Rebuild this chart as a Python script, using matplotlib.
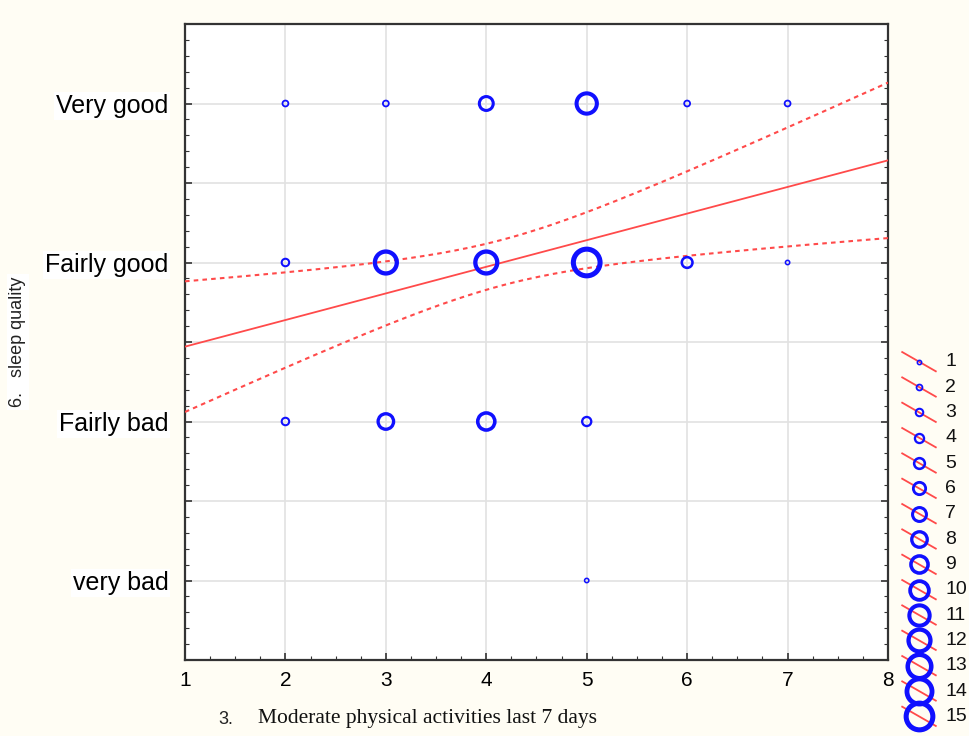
import numpy as np
import matplotlib
matplotlib.use("Agg")
import matplotlib.pyplot as plt
from matplotlib.ticker import MultipleLocator

# ---- data ----
y_categories = ["very bad", "Fairly bad", "Fairly good", "Very good"]
x_ticks = [1, 2, 3, 4, 5, 6, 7, 8]

# observations: activity days (x), sleep-quality level (y, 1..4), count of cases
obs_x = [2, 3, 4, 5, 6, 7,
         2, 3, 4, 5, 6, 7,
         2, 3, 4, 5,
         5]
obs_y = [4, 4, 4, 4, 4, 4,
         3, 3, 3, 3, 3, 3,
         2, 2, 2, 2,
         1]
obs_n = [2, 2, 7, 11, 2, 2,
         3, 12, 12, 15, 5, 1,
         3, 8, 9, 4,
         1]
legend_sizes = list(range(1, 16))

# ---- style ----
DPI = 100
FIG_BG = "#fffdf4"
BLUE = "#1010ff"
RED = "#ff4a4a"


def mew_px(n):
    return 1.3 + 0.25 * n


def ms_px(n):
    return 1.85 * n + 4.0 - mew_px(n)


px2pt = 72.0 / DPI

fig = plt.figure(figsize=(9.69, 7.36), dpi=DPI, facecolor=FIG_BG)
ax = fig.add_axes([185 / 969, 1 - 660 / 736, (888 - 185) / 969, (660 - 24) / 736])
ax.set_facecolor("white")

ox = np.array(obs_x, float)
oy = np.array(obs_y, float)
on = np.array(obs_n, float)

# ---- regression with 95% confidence band (weighted by counts) ----
N = on.sum()
mx = (on * ox).sum() / N
my = (on * oy).sum() / N
sxx = (on * (ox - mx) ** 2).sum()
sxy = (on * (ox - mx) * (oy - my)).sum()
b = sxy / sxx
a = my - b * mx
resid = oy - (a + b * ox)
s = np.sqrt((on * resid ** 2).sum() / (N - 2))
tcrit = 1.985
xx = np.linspace(1, 8, 200)
yy = a + b * xx
se = s * np.sqrt(1 / N + (xx - mx) ** 2 / sxx)
ax.plot(xx, yy, color=RED, lw=1.3, zorder=3)
ax.plot(xx, yy + tcrit * se, color=RED, lw=1.5, ls=(0, (2.2, 2.0)), zorder=3)
ax.plot(xx, yy - tcrit * se, color=RED, lw=1.5, ls=(0, (2.2, 2.0)), zorder=3)

# ---- bubbles ----
sizes_pt = np.array([ms_px(n) * px2pt for n in obs_n])
lws_pt = np.array([mew_px(n) * px2pt for n in obs_n])
ax.scatter(ox, oy, s=sizes_pt ** 2, facecolors="none", edgecolors=BLUE,
           linewidths=lws_pt, zorder=4, clip_on=False)

# ---- axes styling ----
ax.set_xlim(1, 8)
ax.set_ylim(0.5, 4.5)
ax.set_xticks(x_ticks)
ax.set_xticklabels([str(t) for t in x_ticks], fontsize=15, family="Liberation Sans")
ax.xaxis.set_minor_locator(MultipleLocator(0.25))
ax.yaxis.set_minor_locator(MultipleLocator(0.1))
ax.set_yticks(np.arange(0.5, 4.51, 0.5), minor=False)
ax.set_yticklabels(["", y_categories[0], "", y_categories[1], "", y_categories[2], "",
                    y_categories[3], ""], fontsize=18, family="Liberation Sans")
for lab in ax.get_yticklabels():
    if lab.get_text():
        lab.set_bbox(dict(facecolor="white", edgecolor="none", pad=1.5))
ax.tick_params(axis="both", which="both", direction="in", right=True, top=False,
               color="#333333")
ax.tick_params(axis="both", which="major", length=5, width=1.2, pad=8)
ax.tick_params(axis="both", which="minor", length=3, width=0.8)
ax.tick_params(axis="y", which="major", pad=12)
ax.grid(True, which="major", color="#e2e2e2", lw=1.2)
ax.set_axisbelow(True)
for sp in ax.spines.values():
    sp.set_color("#333333")
    sp.set_linewidth(1.6)

# axis labels
fig.text(18 / 969, 1 - 342 / 736, "6.   sleep quality", rotation=90, ha="center",
         va="center", fontsize=13, family="Liberation Sans", color="#222222",
         bbox=dict(facecolor="white", edgecolor="none", pad=2))
fig.text(218 / 969, 1 - 719 / 736, "3.", ha="left", va="center", fontsize=13,
         family="Liberation Sans", color="#222222")
fig.text(258 / 969, 1 - 719 / 736, "Moderate physical activities last 7 days",
         ha="left", va="center", fontsize=15.5, family="Liberation Serif", color="#111111")

# ---- size legend ----
lax = fig.add_axes([898 / 969, 1 - 729 / 736, 42 / 969, (729 - 349) / 736])
lax.set_xlim(0, 1)
lax.set_ylim(15.5, 0.5)
lax.axis("off")
for n in legend_sizes:
    lax.plot([0.1, 0.9], [n - 0.38, n + 0.38], color=RED, lw=1.3, zorder=2)
    lax.plot([0.5], [n], marker="o", ms=ms_px(n) * px2pt, mfc="none", mec=BLUE,
             mew=mew_px(n) * px2pt, zorder=3, clip_on=False)
    lax.text(1.12, n, str(n), ha="left", va="center", fontsize=14,
             family="Liberation Sans", color="#111111", clip_on=False)

fig.savefig("out.png", dpi=DPI, facecolor=FIG_BG)
